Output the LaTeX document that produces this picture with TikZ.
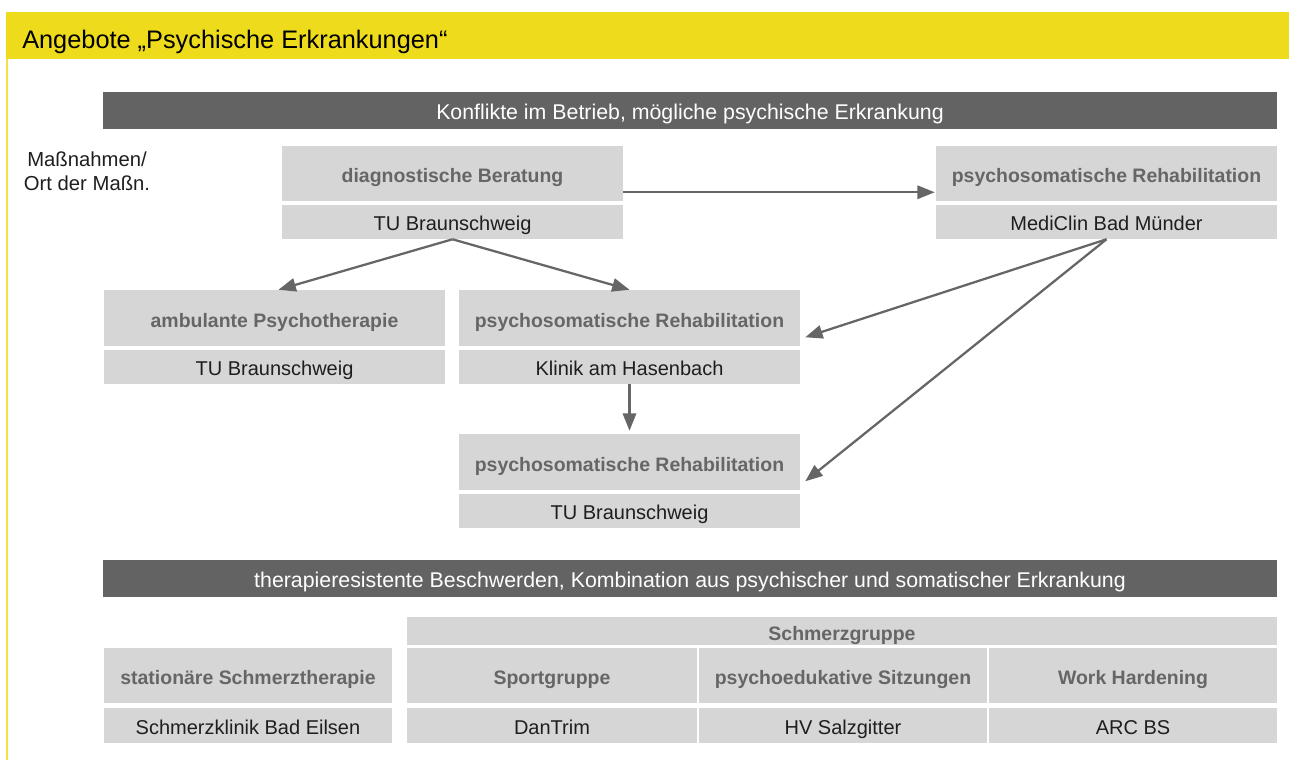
\documentclass[tikz,border=0pt]{standalone}
\usepackage{fontspec}
\setmainfont{Liberation Sans}
\usetikzlibrary{arrows.meta,calc}
\definecolor{ylw}{HTML}{EEDB1C}
\definecolor{ylwline}{HTML}{F4E04A}
\definecolor{barc}{HTML}{636363}
\definecolor{cellgray}{HTML}{D6D6D6}
\definecolor{boldtxt}{HTML}{666666}
\definecolor{txt}{HTML}{1E1E1E}
\definecolor{arrowc}{HTML}{666666}
\newcommand{\cb}[7]{\node[#6, minimum width={(#4-#2)*0.75pt}, minimum height={(#5-#3)*0.75pt}] (#1) at ({(#2+#4)/2},{(#3+#5)/2}) {#7};}
\begin{document}
\begin{tikzpicture}[x=0.75pt,y=-0.75pt,
  cellbase/.style={fill=cellgray, inner sep=0pt, text=txt, text height=14pt, text depth=1pt, font=\fontsize{15}{17}\selectfont},
  headcell/.style={cellbase, text=boldtxt, text height=14.5pt, text depth=1pt, font=\fontsize{14.6}{17}\selectfont\bfseries},
  placecell/.style={cellbase},
  barbox/.style={fill=barc, inner sep=0pt, text=white, text height=14pt, text depth=1pt, font=\fontsize{16}{18}\selectfont},
  titlebox/.style={fill=ylw, inner sep=0pt},
  arr/.style={draw=arrowc, line width=1.7pt, -{Triangle[length=13pt,width=10pt]}}]
\useasboundingbox (0,0) rectangle (1289,761);
% title bar
\cb{titlebar}{6}{12}{1289}{59}{titlebox}{}
\node[anchor=base west, inner sep=0pt, text=black, font=\fontsize{19}{22}\selectfont] (title) at (22,48) {Angebote „Psychische Erkrankungen“};
\fill[ylwline] (6,59) rectangle (8,760);
% top bar
\cb{bar1}{103}{92}{1277}{129}{barbox}{Konflikte im Betrieb, mögliche psychische Erkrankung}
\node[align=center, inner sep=0pt, text=txt, font=\fontsize{15.2}{18}\selectfont] (legend) at (87,171) {Maßnahmen/\\Ort der Maßn.};
% first block
\cb{diagT}{282}{146}{623}{201}{headcell}{diagnostische Beratung}
\cb{diagL}{282}{205}{623}{239}{placecell}{TU Braunschweig}
\cb{mediT}{936}{146}{1277}{201}{headcell}{psychosomatische Rehabilitation}
\cb{mediL}{936}{205}{1277}{239}{placecell}{MediClin Bad Münder}
\cb{ambT}{104}{290}{445}{346}{headcell}{ambulante Psychotherapie}
\cb{ambL}{104}{350}{445}{384}{placecell}{TU Braunschweig}
\cb{klinT}{459}{290}{800}{346}{headcell}{psychosomatische Rehabilitation}
\cb{klinL}{459}{350}{800}{384}{placecell}{Klinik am Hasenbach}
\cb{tuT}{459}{434}{800}{490}{headcell}{psychosomatische Rehabilitation}
\cb{tuL}{459}{494}{800}{528}{placecell}{TU Braunschweig}
% arrows
\draw[arr] ([yshift=6.75pt]diagT.south east) -- ([shift={(-1,-9)}]mediT.south west);
\draw[arr] (diagL.south) -- ([xshift=3]ambT.north);
\draw[arr] (diagL.south) -- (klinT.north);
\draw[arr] (mediL.south) -- ([shift={(5,-9)}]klinT.south east);
\draw[arr] (mediL.south) -- ([shift={(5,-9)}]tuT.south east);
\draw[arr] (klinL.south) -- ([yshift=2.25pt]tuT.north);
% second bar
\cb{bar2}{103}{560}{1277}{597}{barbox}{therapieresistente Beschwerden, Kombination aus psychischer und somatischer Erkrankung}
\cb{schmerz}{407}{617}{1277}{645}{headcell}{Schmerzgruppe}
\cb{statT}{104}{648}{392}{703}{headcell}{stationäre Schmerztherapie}
\cb{statL}{104}{708}{392}{743}{placecell}{Schmerzklinik Bad Eilsen}
\cb{sportT}{407}{648}{697}{703}{headcell}{Sportgruppe}
\cb{sportL}{407}{708}{697}{743}{placecell}{DanTrim}
\cb{psyT}{699}{648}{987}{703}{headcell}{psychoedukative Sitzungen}
\cb{psyL}{699}{708}{987}{743}{placecell}{HV Salzgitter}
\cb{workT}{989}{648}{1277}{703}{headcell}{Work Hardening}
\cb{workL}{989}{708}{1277}{743}{placecell}{ARC BS}
\end{tikzpicture}
\end{document}
